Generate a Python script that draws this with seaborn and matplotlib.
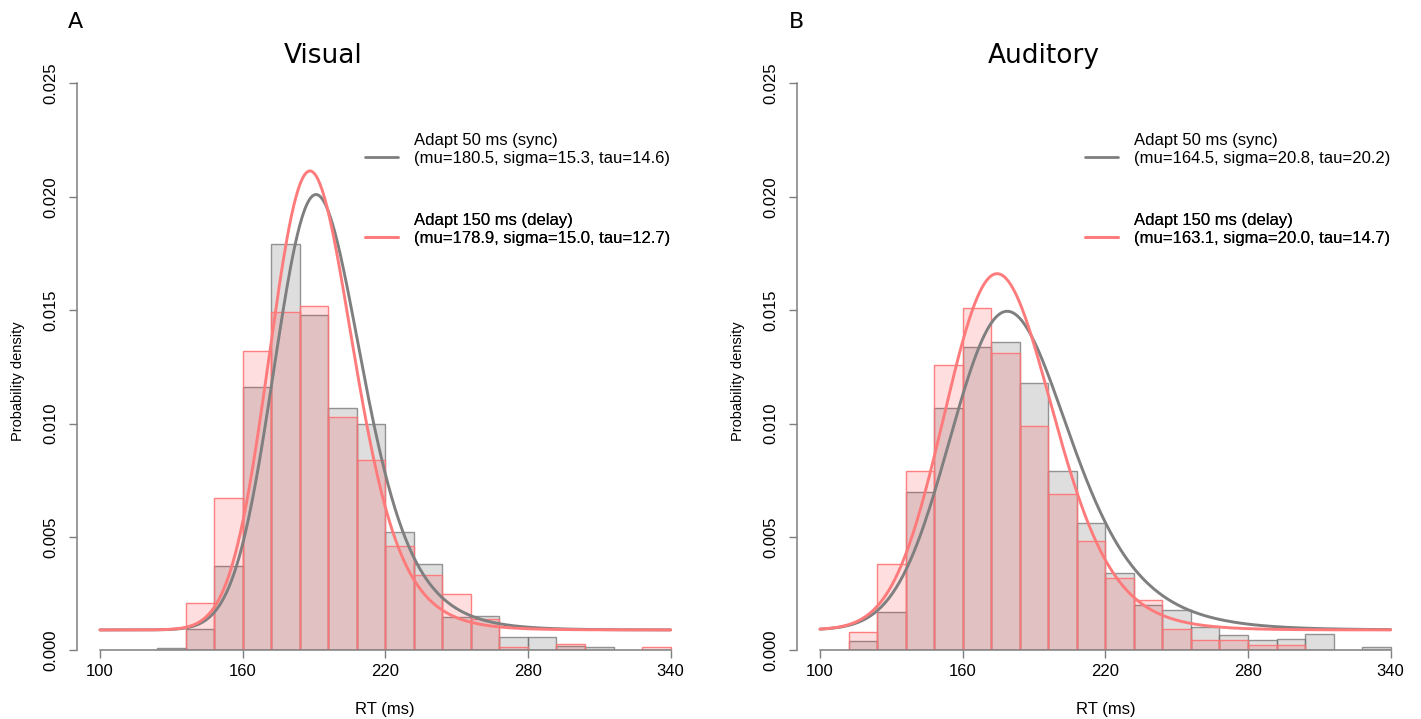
import math
import numpy as np
import pandas as pd
import matplotlib
matplotlib.use("Agg")
import matplotlib.pyplot as plt
import seaborn as sns
from matplotlib.lines import Line2D

# --- data ---
bin_edges = list(range(100, 341, 12))          # 12 ms bins, 100 .. 340
bin_left = bin_edges[:-1]

# histogram densities, one value per bin (left edge 100, 112, ..., 328)
visual_sync = [0, 0, 0.00012, 0.00092, 0.0037, 0.0116, 0.0179, 0.0148, 0.0107, 0.0100,
               0.0052, 0.0038, 0.00145, 0.0015, 0.0006, 0.0006, 0.0002, 0.00016, 0, 0]
visual_delay = [0, 0, 0, 0.0021, 0.0067, 0.0132, 0.0149, 0.0152, 0.0103, 0.0084,
                0.0046, 0.0033, 0.0025, 0.00136, 0.00016, 0, 0.0003, 0, 0, 0.00016]
auditory_sync = [0, 0.0004, 0.0017, 0.0070, 0.0107, 0.01336, 0.01358, 0.0118, 0.0079, 0.0056,
                 0.0034, 0.0020, 0.0018, 0.00103, 0.00067, 0.00045, 0.0005, 0.00071, 0, 0.00013]
auditory_delay = [0, 0.00081, 0.0038, 0.0079, 0.0126, 0.0151, 0.0131, 0.0099, 0.0069, 0.0048,
                  0.0032, 0.0022, 0.00093, 0.00046, 0.00046, 0.00023, 0.00023, 0, 0, 0]

# ex-Gaussian fits shown in the legends: mu, sigma, tau
visual_fit = {"sync": (180.5, 15.3, 14.6), "delay": (178.9, 15.0, 12.7)}
auditory_fit = {"sync": (164.5, 20.8, 20.2), "delay": (163.1, 20.0, 14.7)}
tail_level = 0.0009      # flat floor of the fitted curves, read from the tails
fit_weight = 0.926       # share of the ex-Gaussian part, read from the peak heights

x_ticks = [100, 160, 220, 280, 340]
y_ticks = [0.000, 0.005, 0.010, 0.015, 0.020, 0.025]

GRAY_FILL = (0.5, 0.5, 0.5, 0.26)
GRAY_EDGE = (0.45, 0.45, 0.45, 0.75)
PINK_FILL = (1.0, 0.0, 0.05, 0.13)
PINK_EDGE = (1.0, 0.45, 0.45, 0.9)
GRAY_LINE = "#7f7f7f"
PINK_LINE = "#ff7b7b"


def exgauss(x, mu, sigma, tau):
    z = (x - mu) / sigma - sigma / tau
    phi = np.array([0.5 * math.erfc(-v / math.sqrt(2)) for v in z])
    return (1 / tau) * np.exp((mu - x) / tau + sigma ** 2 / (2 * tau ** 2)) * phi


sns.set_style("white")
plt.rcParams["font.family"] = ["Liberation Sans", "DejaVu Sans"]
plt.rcParams["text.color"] = "black"
plt.rcParams["axes.labelcolor"] = "black"

fig = plt.figure(figsize=(14.21, 7.19), dpi=100)
ax_w, ax_h = 0.4337, 0.7886
axA = fig.add_axes([0.0543, 0.0955, ax_w, ax_h])
axB = fig.add_axes([0.5610, 0.0955, ax_w, ax_h])

panels = [
    (axA, "A", "Visual", visual_sync, visual_delay, visual_fit, 0.0478),
    (axB, "B", "Auditory", auditory_sync, auditory_delay, auditory_fit, 0.5552),
]

x_grid = np.linspace(100, 340, 481)

for ax, letter, title, sync, delay, fit, letter_x in panels:
    for vals, fc, ec in [(sync, GRAY_FILL, GRAY_EDGE), (delay, PINK_FILL, PINK_EDGE)]:
        df = pd.DataFrame({"rt": [b + 6 for b in bin_left], "dens": vals})
        n0 = len(ax.patches)
        sns.histplot(data=df, x="rt", weights="dens", bins=bin_edges, stat="count",
                     ax=ax, linewidth=1.0)
        for p in ax.patches[n0:]:
            p.set_facecolor(fc)
            p.set_edgecolor(ec)
            p.set_alpha(None)
            if p.get_height() <= 0:
                p.set_visible(False)

    for key, col in [("sync", GRAY_LINE), ("delay", PINK_LINE)]:
        mu, sigma, tau = fit[key]
        dens = fit_weight * exgauss(x_grid, mu, sigma, tau) + tail_level
        sns.lineplot(x=x_grid, y=dens, ax=ax, color=col, linewidth=2.1,
                     sort=False, estimator=None)

    leg = ax.get_legend()
    if leg is not None:
        leg.remove()

    # legends: two blocks, line key next to the parameter line
    s = fit["sync"]
    d = fit["delay"]
    blocks = [
        ("Adapt 50 ms (sync)", f"(mu={s[0]:.1f}, sigma={s[1]:.1f}, tau={s[2]:.1f})", GRAY_LINE, 0.912),
        ("Adapt 150 ms (delay)", f"(mu={d[0]:.1f}, sigma={d[1]:.1f}, tau={d[2]:.1f})", PINK_LINE, 0.772),
    ]
    for lab1, lab2, col, top in blocks:
        handles = [Line2D([], [], color="none"), Line2D([], [], color=col, lw=2.0)]
        lg = ax.legend(handles, [lab1, lab2], loc="upper left", bbox_to_anchor=(0.467, top),
                       frameon=False, borderpad=0, borderaxespad=0, handlelength=2.0,
                       handletextpad=0.95, labelspacing=0.18, fontsize=12,
                       labelcolor="black")
        ax.add_artist(lg)

    ax.set_xlim(90.4, 349.6)
    ax.set_ylim(0, 0.025)
    ax.set_xticks(x_ticks)
    ax.set_yticks(y_ticks)
    ax.set_yticklabels([f"{v:.3f}" for v in y_ticks], rotation=90, va="center")
    ax.tick_params(axis="both", direction="out", length=5.8, width=1.0, color="#7f7f7f",
                   labelsize=12, labelcolor="black")
    ax.tick_params(axis="x", pad=4)
    ax.tick_params(axis="y", pad=8)
    ax.tick_params(left=True, bottom=True)
    for side in ["top", "right"]:
        ax.spines[side].set_visible(False)
    ax.spines["left"].set_bounds(0, 0.025)
    ax.spines["bottom"].set_bounds(100, 340)
    for side in ["left", "bottom"]:
        ax.spines[side].set_color("#7f7f7f")
        ax.spines[side].set_linewidth(1.1)

    ax.set_xlabel("RT (ms)", fontsize=12)
    ax.set_ylabel("Probability density", fontsize=10.5)
    ax.xaxis.label.set_va("center")
    ax.yaxis.label.set_va("center")
    ax.xaxis.set_label_coords(0.5, -0.1035)
    ax.yaxis.set_label_coords(-0.096, 0.475)

    ax.text(194, 1.0353, title, transform=ax.get_xaxis_transform(), ha="center",
            va="baseline", fontsize=19, family="DejaVu Sans", color="black")
    fig.text(letter_x, 1 - 28.3 / 719, letter, ha="left", va="baseline",
             fontsize=16, family="DejaVu Sans", color="black")

fig.savefig("out.png", dpi=100)
